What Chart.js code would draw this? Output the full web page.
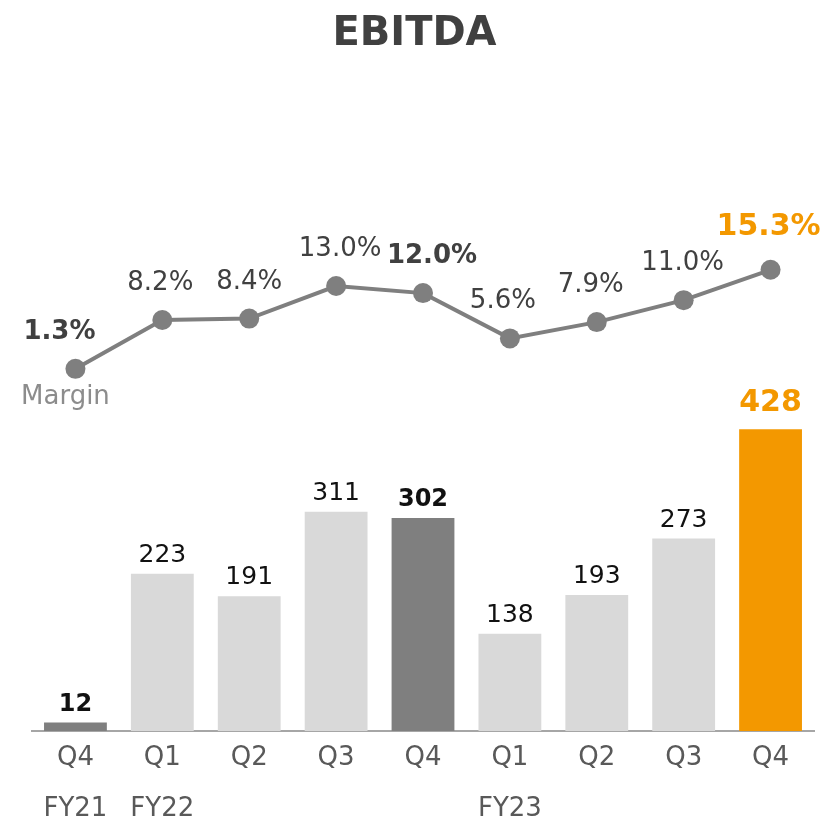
<!DOCTYPE html>
<html>
<head>
<meta charset="utf-8">
<script src="https://cdn.jsdelivr.net/npm/chart.js@4"></script>
<style>
  body { margin: 0; background: #fff; }
  #wrap { width: 829px; height: 822px; }
</style>
</head>
<body>
<div id="wrap"><canvas id="ebitdaChart" width="829" height="822"></canvas></div>
<script>
const quarters = ['Q4', 'Q1', 'Q2', 'Q3', 'Q4', 'Q1', 'Q2', 'Q3', 'Q4'];
const fiscalYears = ['FY21', 'FY22', '', '', '', 'FY23', '', '', ''];
const ebitda = [12, 223, 191, 311, 302, 138, 193, 273, 428];
const margin = [1.3, 8.2, 8.4, 13.0, 12.0, 5.6, 7.9, 11.0, 15.3];

const LIGHT = '#d9d9d9';
const DARK = '#7f7f7f';
const ORANGE = '#f39800';
const FONT = "'DejaVu Sans', Verdana, sans-serif";

const barColors = [DARK, LIGHT, LIGHT, LIGHT, DARK, LIGHT, LIGHT, LIGHT, ORANGE];
// label look per point: 0 normal, 1 bold, 2 highlight
const emphasis = [1, 0, 0, 0, 1, 0, 0, 0, 2];
const marginDx = [-16, -2, 0, 4, 9, -7, -6, -1, -2];

const labels = quarters.map((q, i) => fiscalYears[i] ? [q, fiscalYears[i]] : q);

const valueLabels = {
  id: 'valueLabels',
  afterDatasetsDraw(chart) {
    const ctx = chart.ctx;
    ctx.save();
    ctx.textAlign = 'center';
    ctx.textBaseline = 'alphabetic';

    // title, centred on the whole canvas
    ctx.font = 'bold 40px ' + FONT;
    ctx.fillStyle = '#404040';
    ctx.fillText('EBITDA', chart.width / 2, 45);

    chart.getDatasetMeta(0).data.forEach((bar, i) => {
      const e = emphasis[i];
      ctx.font = (e ? 'bold ' : '') + (e === 2 ? 30 : e ? 24 : 25) + 'px ' + FONT;
      ctx.fillStyle = e === 2 ? ORANGE : '#111111';
      ctx.fillText(String(ebitda[i]), bar.x, bar.y - (e === 2 ? 18 : 12));
    });

    chart.getDatasetMeta(1).data.forEach((pt, i) => {
      const e = emphasis[i];
      ctx.font = (e ? 'bold ' : '') + (e === 2 ? 30 : 26) + 'px ' + FONT;
      ctx.fillStyle = e === 2 ? ORANGE : '#404040';
      ctx.fillText(margin[i].toFixed(1) + '%', pt.x + marginDx[i], pt.y - (e === 2 ? 35 : 30));
    });

    const first = chart.getDatasetMeta(1).data[0];
    ctx.font = '26px ' + FONT;
    ctx.fillStyle = '#8c8c8c';
    ctx.fillText('Margin', first.x - 10, first.y + 35);
    ctx.restore();
  }
};

new Chart(document.getElementById('ebitdaChart'), {
  data: {
    labels: labels,
    datasets: [{
      type: 'bar',
      label: 'EBITDA',
      data: ebitda,
      backgroundColor: barColors,
      barPercentage: 0.723,
      categoryPercentage: 1,
      yAxisID: 'y',
      order: 1
    }, {
      type: 'line',
      label: 'Margin',
      data: margin,
      borderColor: DARK,
      backgroundColor: DARK,
      borderWidth: 4,
      pointRadius: 10,
      pointBorderWidth: 0,
      pointBackgroundColor: DARK,
      yAxisID: 'y1',
      order: 0
    }]
  },
  options: {
    responsive: false,
    animation: false,
    layout: { padding: { left: 32, right: 15, top: 100, bottom: 0 } },
    plugins: {
      legend: { display: false },
      tooltip: { enabled: false },
      title: { display: false }
    },
    scales: {
      x: {
        grid: { display: false, drawTicks: false },
        border: { display: true, color: '#a6a6a6', width: 2 },
        ticks: {
          color: '#595959',
          font: { family: FONT, size: 26, lineHeight: 1.96 },
          padding: 2,
          maxRotation: 0,
          autoSkip: false
        },
        afterFit: (scale) => { scale.height = 91; }
      },
      y: { display: false, min: 0, max: 895 },
      y1: { display: false, min: -49.9, max: 39.3 }
    }
  },
  plugins: [valueLabels]
});
</script>
</body>
</html>
